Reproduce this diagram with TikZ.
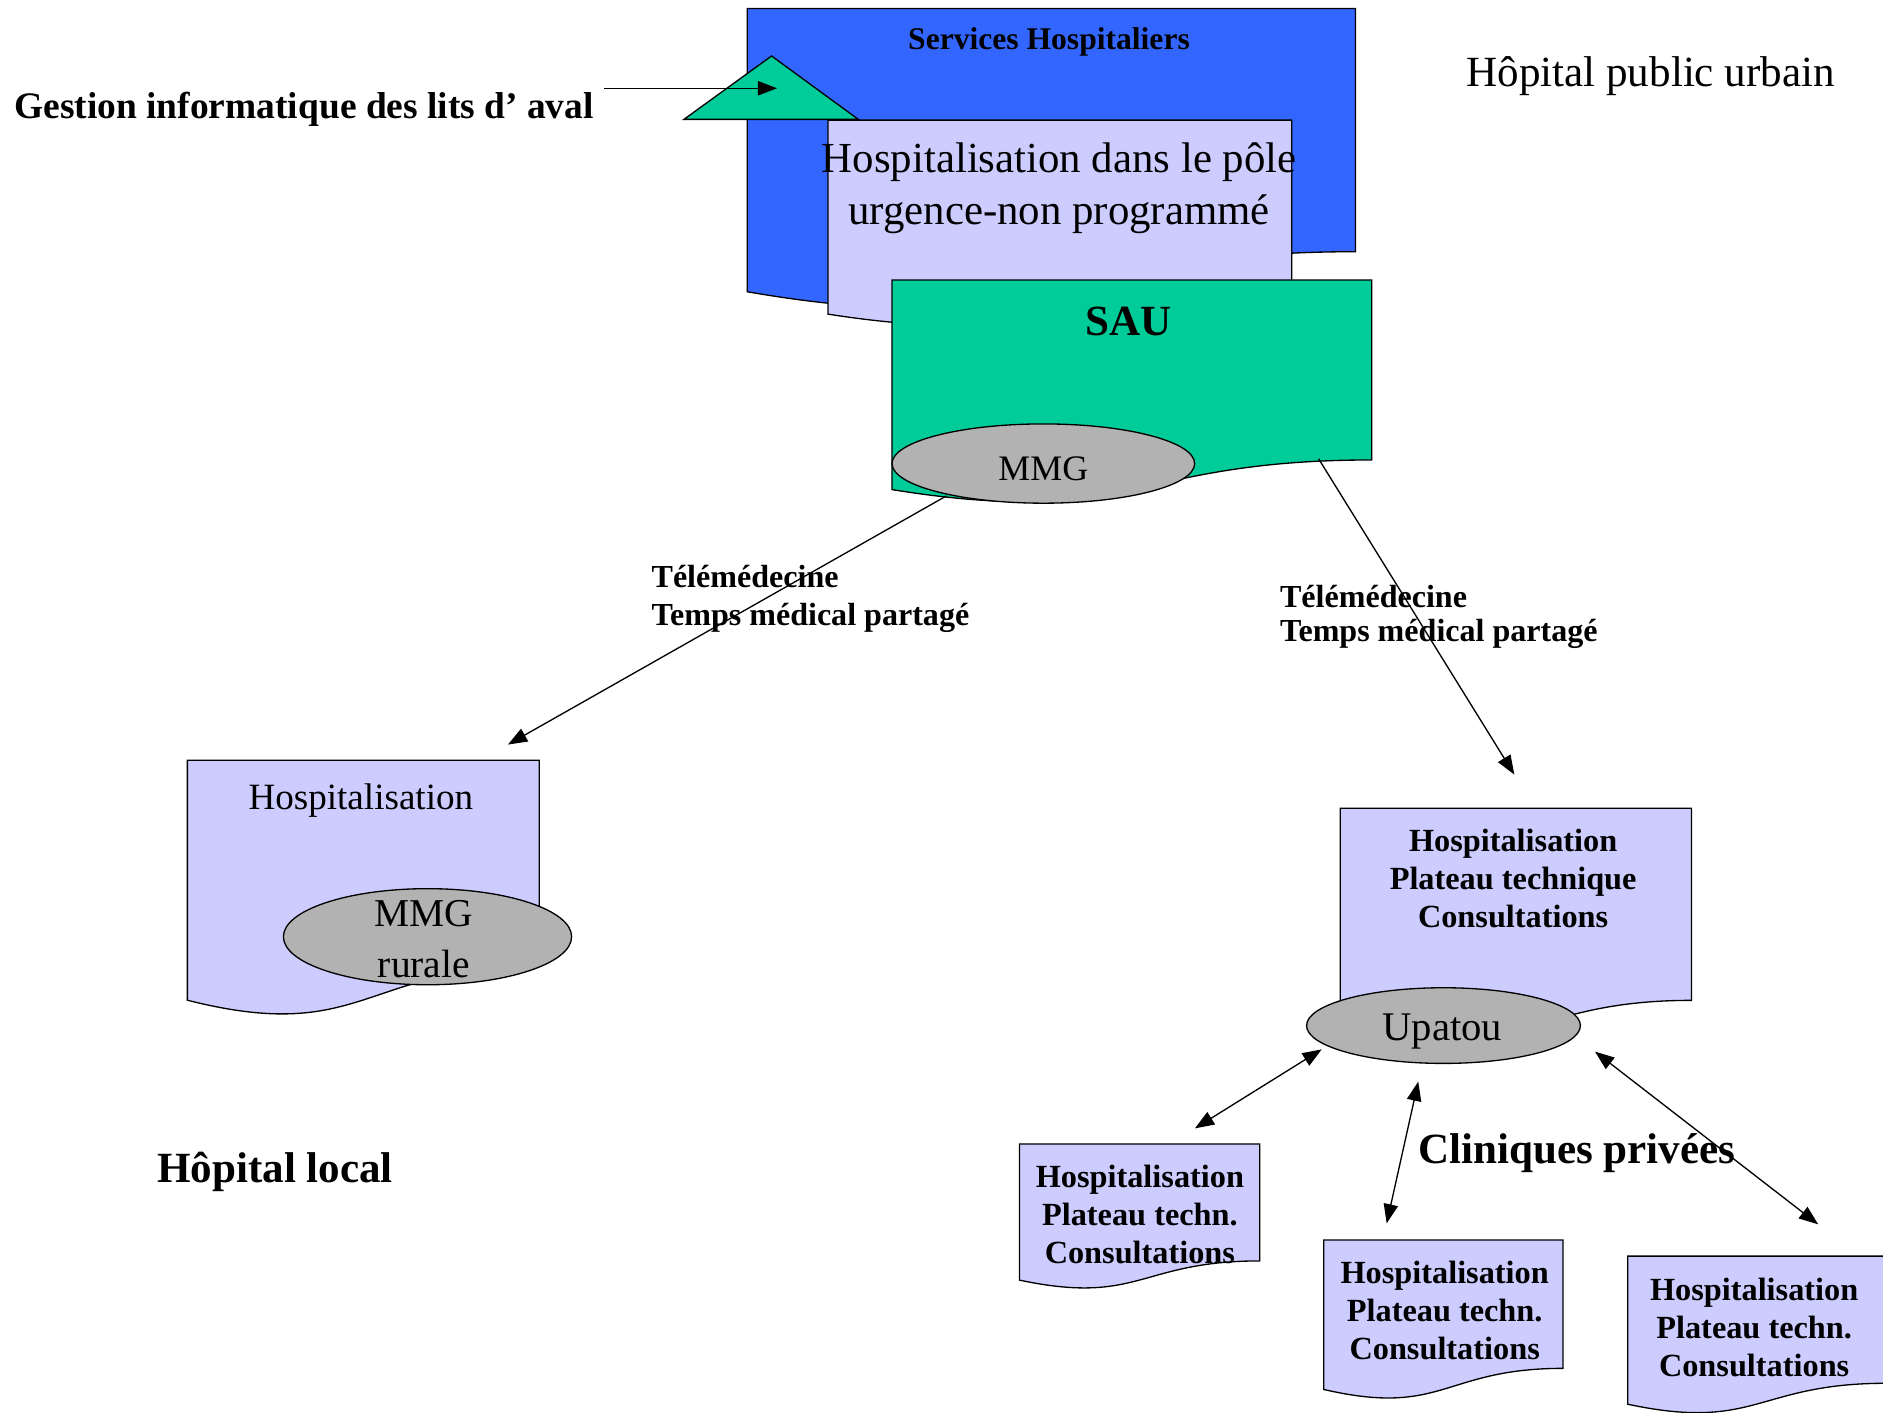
\documentclass[tikz,border=0pt]{standalone}
\usepackage{fontspec}
\setmainfont{Liberation Serif}
\usetikzlibrary{arrows.meta}
\definecolor{hblue}{RGB}{51,102,255}
\definecolor{hlav}{RGB}{204,204,255}
\definecolor{hgreen}{RGB}{0,204,153}
\definecolor{hgray}{RGB}{178,178,178}
% document (wavy bottom) shape: x y w h style
\newcommand{\docshape}[5]{%
  \pgfmathsetmacro\dsxr{#1+#3}%
  \pgfmathsetmacro\dsyr{#2+0.802*#4}%
  \pgfmathsetmacro\dsxm{#1+0.5*#3}%
  \pgfmathsetmacro\dsyc{#2+1.1075*#4}%
  \pgfmathsetmacro\dsyl{#2+0.934*#4}%
  \draw[#5] (#1,#2) -- (\dsxr,#2) -- (\dsxr,\dsyr)
    .. controls (\dsxm,\dsyr) and (\dsxm,\dsyc) .. (#1,\dsyl) -- cycle;}
\begin{document}
\begin{tikzpicture}[x=1bp,y=-1bp,
  shapeline/.style={draw=black, line width=1.1bp, line join=miter},
  bluedoc/.style={shapeline, fill=hblue},
  lavdoc/.style={shapeline, fill=hlav},
  greendoc/.style={shapeline, fill=hgreen},
  grayell/.style={shapeline, fill=hgray},
  txt/.style={inner sep=0pt, outer sep=0pt, text=black},
  bigtxt/.style={txt, font=\fontsize{36}{43}\selectfont},
  bigbold/.style={txt, font=\bfseries\fontsize{36}{43}\selectfont},
  boxtxt/.style={txt, align=center, font=\bfseries\fontsize{27}{31.8}\selectfont},
  labtxt/.style={txt, anchor=west, align=left},
  conn/.style={line width=1.1bp, -{Triangle[length=16bp,width=12bp]}},
  dconn/.style={line width=1.1bp, {Triangle[length=16bp,width=12bp]}-{Triangle[length=16bp,width=12bp]}}
]
\useasboundingbox (0,0) rectangle (1568,1176.6);
\fill[white] (0,0) rectangle (1568,1176.6);

% --- top group: urban public hospital ---
\docshape{622.2}{7}{506.6}{252.6}{bluedoc}
\docshape{689.5}{100}{386.2}{173}{lavdoc}
\docshape{742.7}{233.2}{399.5}{186.8}{greendoc}
\draw[shapeline, fill=hgreen] (569.5,99.4) -- (642.5,46.6) -- (714.7,99.4) -- cycle;
\draw[grayell] (868.8,386) ellipse [x radius=126bp, y radius=33bp];

\node[bigtxt] (hpu) at (1374.5,63) {Hôpital public urbain};
\node[txt, font=\bfseries\fontsize{26.4}{32}\selectfont] (sh) at (873.5,35) {Services Hospitaliers};
\node[txt, align=center, font=\fontsize{35.8}{43.5}\selectfont] (pole) at (882,156.5) {Hospitalisation dans le pôle\\urgence-non programmé};
\node[bigbold] (sau) at (940,268) {SAU};
\node[txt, font=\fontsize{30}{36}\selectfont] (mmg) at (868.8,390) {MMG};
\node[txt, anchor=west, font=\bfseries\fontsize{31.3}{37}\selectfont] (gest) at (12,91) {Gestion informatique des lits d’ aval};

\coordinate (gestend) at (503,73.5);
\coordinate (tritip) at (647,73.5);
\draw[conn] (gestend) -- (tritip);

% --- local hospital ---
\docshape{156}{633}{293}{214}{lavdoc}
\draw[grayell] (356,780) ellipse [x radius=120bp, y radius=40bp];
\node[txt, font=\fontsize{31}{37}\selectfont] (hl) at (300.5,667) {Hospitalisation};
\node[txt, align=center, font=\fontsize{33}{42}\selectfont] (mmgr) at (353,782) {MMG\\rurale};
\node[bigbold] (hlocal) at (229,976) {Hôpital local};

% --- right hospital with Upatou ---
\docshape{1116}{673}{292.5}{199.5}{lavdoc}
\draw[grayell] (1202,854) ellipse [x radius=114bp, y radius=31.5bp];
\node[boxtxt] (hpt) at (1260,731.3) {Hospitalisation\\Plateau technique\\Consultations};
\node[txt, font=\fontsize{34}{40}\selectfont] (upatou) at (1201,859) {Upatou};

% --- private clinics ---
\docshape{849}{952.6}{200}{121.4}{lavdoc}
\docshape{1102.3}{1032.6}{199.2}{133.2}{lavdoc}
\docshape{1355.4}{1046}{215}{132}{lavdoc}
\node[boxtxt] (cla) at (949.2,1011.5) {Hospitalisation\\Plateau techn.\\Consultations};
\node[boxtxt] (clb) at (1203,1091) {Hospitalisation\\Plateau techn.\\Consultations};
\node[boxtxt] (clc) at (1460.7,1105.1) {Hospitalisation\\Plateau techn.\\Consultations};
\node[bigbold] (clin) at (1313,960.5) {Cliniques privées};

% --- telemedicine labels ---
\node[labtxt, font=\bfseries\fontsize{26.8}{32}\selectfont] (tm1) at (542.6,498.5) {Télémédecine\\Temps médical partagé};
\node[labtxt, font=\bfseries\fontsize{26.8}{28.5}\selectfont] (tm2) at (1065.9,514) {Télémédecine\\Temps médical partagé};

% --- connectors ---
\coordinate (mmgout) at (788,413);
\coordinate (localin) at (423,620);
\coordinate (sauout) at (1098,382);
\coordinate (rightin) at (1261,645);
\draw[conn] (mmgout) -- (localin);
\draw[conn] (sauout) -- (rightin);

\coordinate (upa) at (1100.6,873.8);
\coordinate (cla-in) at (995,939.6);
\coordinate (upb) at (1181,900.7);
\coordinate (clb-in) at (1154.7,1018.7);
\coordinate (upc) at (1328.2,875.7);
\coordinate (clc-in) at (1514,1019.5);
\draw[dconn] (upa) -- (cla-in);
\draw[dconn] (upb) -- (clb-in);
\draw[dconn] (upc) -- (clc-in);
\end{tikzpicture}
\end{document}
